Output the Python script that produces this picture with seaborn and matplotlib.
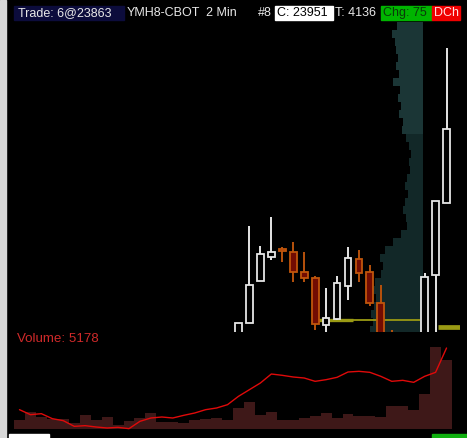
import pandas as pd
import seaborn as sns
import matplotlib.pyplot as plt
from matplotlib.patches import Rectangle

# ---- data ----
# 40 two-minute bars in the window
bar_idx = list(range(40))
volume = [650, 1250, 900, 750, 750, 450, 1070, 650, 900, 320,
          620, 850, 1200, 520, 520, 430, 680, 730, 800, 650,
          1600, 2000, 1030, 1280, 650, 650, 850, 950, 1200, 800,
          1100, 950, 950, 880, 1750, 1750, 1450, 2650, 6180, 5178]
vol_line = [1450, 1075, 1150, 775, 625, 200, 250, 150, 75, 125,
            25, 575, 825, 900, 825, 1025, 1200, 1450, 1575, 1825,
            2450, 2950, 3450, 4125, 4025, 3900, 3825, 3575, 3700, 3875,
            4275, 4325, 4250, 3950, 3575, 3650, 3500, 3950, 4250, 6075]

# candles that reach into the price pane (bars 20-39)
candle_idx = list(range(20, 40))
opens = [23740, 23757, 23799, 23823, 23831, 23828, 23808, 23802, 23755, 23761,
         23794, 23821, 23808, 23777, 23735, 23715, 23700, 23725, 23805, 23877]
highs = [23757, 23854, 23834, 23863, 23833, 23838, 23828, 23804, 23792, 23804,
         23833, 23830, 23815, 23795, 23750, 23725, 23735, 23807, 23879, 24032]
lows = [23738, 23757, 23799, 23820, 23818, 23798, 23798, 23750, 23746, 23760,
        23780, 23798, 23774, 23730, 23705, 23690, 23695, 23720, 23740, 23877]
closes = [23757, 23795, 23826, 23828, 23829, 23808, 23802, 23756, 23762, 23797,
          23822, 23807, 23777, 23735, 23715, 23700, 23730, 23803, 23879, 23951]

# volume profile (price level -> traded volume)
profile_price = [24054, 24046, 24038, 24030, 24022, 24014, 24006, 23998, 23990, 23982,
                 23974, 23966, 23958, 23950, 23942, 23934, 23926, 23918, 23910, 23902,
                 23894, 23886, 23878, 23870, 23862, 23854, 23846, 23838, 23830, 23822,
                 23814, 23806, 23798, 23790, 23782, 23774, 23766, 23758, 23750]
profile_vol = [260, 310, 280, 270, 250, 270, 240, 300, 230, 250,
               220, 240, 200, 210, 170, 140, 120, 140, 130, 160,
               180, 150, 180, 200, 170, 160, 220, 300, 380, 430,
               400, 420, 480, 500, 470, 490, 520, 500, 530]

# reference levels (olive lines)
level_price = [23760, 23760, 23753]
level_start = [27.3, 30.5, 38.2]
level_end = [30.5, 36.6, 40.2]

header = ["Trade: 6@23863", "YMH8-CBOT", "2 Min", "#8", "C: 23951", "T: 4136", "Chg: 75", "DCh"]

W, H = 467, 438
sns.set_style("dark")
plt.rcParams['font.family'] = ['Liberation Sans', 'DejaVu Sans']

fig = plt.figure(figsize=(W / 100, H / 100), dpi=100, facecolor='black')


def fig_box(x0, y0, x1, y1):
    return [x0 / W, 1 - y1 / H, (x1 - x0) / W, (y1 - y0) / H]


def px_rect(x0, y0, x1, y1, color):
    fig.patches.append(Rectangle((x0 / W, 1 - y1 / H), (x1 - x0) / W, (y1 - y0) / H,
                                 transform=fig.transFigure, color=color, zorder=0))


xlim = (-0.5, 40.23)

# price pane
ax_prof = fig.add_axes(fig_box(370, 22, 423, 332), zorder=0)
ax = fig.add_axes(fig_box(14, 22, 460, 332), zorder=1)
ax_vol = fig.add_axes(fig_box(14, 333, 460, 432), zorder=1)

prof = pd.DataFrame({'price': profile_price, 'vol': profile_vol})
prof_colors = ['#1b3636' if p >= 23950 else '#122828' for p in profile_price]
ax_prof.barh(prof['price'], prof['vol'], height=8, color=prof_colors, linewidth=0)
ax_prof.set_xlim(530, 0)
ax_prof.set_ylim(23748, 24058)
ax_prof.axis('off')

candles = pd.DataFrame({'x': candle_idx, 'o': opens, 'h': highs, 'l': lows, 'c': closes})
up = candles['c'] >= candles['o']
for is_up, wick_col, face, edge in [(True, '#e6e6e6', 'black', '#e6e6e6'),
                                    (False, '#b8520c', '#720c02', '#c0560c')]:
    d = candles[up == is_up]
    ax.vlines(d['x'], d['l'], d['h'], color=wick_col, lw=1.4, zorder=2)
    ax.bar(d['x'], (d['c'] - d['o']).abs().clip(lower=1), bottom=d[['o', 'c']].min(axis=1),
           width=0.62, facecolor=face, edgecolor=edge, lw=1.3, zorder=3)

for p, s, e, lw in zip(level_price, level_start, level_end, [2.4, 1.3, 3.4]):
    ax.hlines(p, s, e, color='#9a9a14', lw=lw, zorder=1)

ax.set_xlim(*xlim)
ax.set_ylim(23748, 24058)
ax.patch.set_alpha(0)
ax.axis('off')

# volume pane
vdf = pd.DataFrame({'bar': bar_idx, 'volume': volume, 'avg': vol_line})
sns.barplot(data=vdf, x='bar', y='volume', native_scale=True, width=1.0,
            color='#3e1818', saturation=1, edgecolor='none', ax=ax_vol)
sns.lineplot(data=vdf, x='bar', y='avg', color='#e00a0a', lw=1.0, ax=ax_vol)
ax_vol.set_xlim(*xlim)
ax_vol.set_ylim(-225, 7200)
ax_vol.set_facecolor('black')
ax_vol.axis('off')
fig.text(17 / W, 1 - 339 / H, f"Volume: {volume[-1]}", color='#d02a2a', fontsize=9.6, va='center')

# header strip
hy = 1 - 13 / H
px_rect(0, 0, 6, H, '#d8d8d8')
px_rect(14, 6, 124, 20, '#0c0c3c')
px_rect(275, 6, 333, 20, 'white')
px_rect(381, 6, 432, 20, '#00b400')
px_rect(432, 6, 460, 20, '#f00000')
px_rect(9, 434, 49, H, 'white')
px_rect(432, 434, W, H, '#10b010')
for txt, x, col in zip(header, [18, 127, 206, 258, 277, 335, 383, 434],
                       ['#e8e8e8', '#e8e8e8', '#e8e8e8', '#e8e8e8', 'black', '#e8e8e8', '#0a3a0a', '#ffe0e0']):
    fig.text(x / W, hy, txt, color=col, fontsize=9.0, va='center')

fig.savefig('out.png', dpi=100, facecolor='black')
